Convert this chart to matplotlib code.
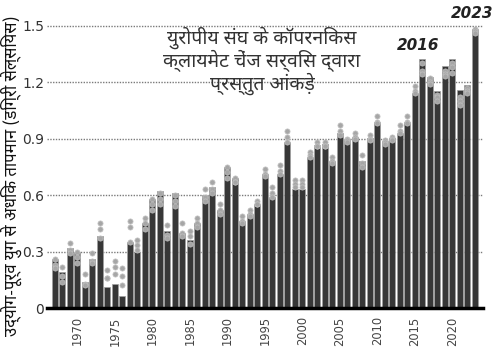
import matplotlib
matplotlib.use("Agg")
import matplotlib.pyplot as plt
from matplotlib import font_manager as fm
import numpy as np

years = list(range(1967, 2024))
anomaly = [0.26, 0.19, 0.32, 0.30, 0.14, 0.26, 0.38, 0.11, 0.13, 0.065,
           0.35, 0.30, 0.45, 0.58, 0.62, 0.41, 0.61, 0.40, 0.36, 0.45,
           0.60, 0.64, 0.52, 0.75, 0.69, 0.46, 0.50, 0.55, 0.71, 0.59,
           0.71, 0.88, 0.63, 0.63, 0.80, 0.865, 0.87, 0.78, 0.93, 0.90,
           0.91, 0.78, 0.905, 0.99, 0.885, 0.905, 0.93, 0.99, 1.14, 1.32,
           1.225, 1.15, 1.285, 1.32, 1.16, 1.185, 1.48]
dots_a = [0.26, 0.22, 0.345, 0.30, 0.18, 0.29, 0.45, 0.20, 0.25, 0.21,
          0.46, 0.36, 0.48, 0.58, 0.61, 0.44, 0.60, 0.45, 0.41, 0.48,
          0.63, 0.67, 0.55, 0.75, 0.69, 0.49, 0.52, 0.57, 0.74, 0.64,
          0.76, 0.94, 0.68, 0.68, 0.83, 0.88, 0.88, 0.80, 0.97, 0.90,
          0.93, 0.81, 0.92, 1.02, 0.89, 0.91, 0.97, 1.02, 1.18, 1.30,
          1.22, 1.13, 1.26, 1.30, 1.12, 1.17, 1.48]
dots_b = [0.23, 0.17, 0.31, 0.27, 0.13, 0.25, 0.42, 0.16, 0.22, 0.17,
          0.43, 0.335, 0.45, 0.55, 0.58, 0.39, 0.57, 0.40, 0.38, 0.45,
          0.59, 0.63, 0.52, 0.72, 0.67, 0.46, 0.50, 0.55, 0.71, 0.61,
          0.73, 0.91, 0.66, 0.66, 0.81, 0.86, 0.86, 0.78, 0.94, 0.89,
          0.91, 0.77, 0.90, 0.99, 0.88, 0.90, 0.94, 0.99, 1.15, 1.26,
          1.20, 1.12, 1.24, 1.28, 1.10, 1.15, 1.47]
dots_c = [0.21, 0.14, 0.29, 0.24, 0.12, 0.24, 0.37, 0.16, 0.18, 0.12,
          0.35, 0.31, 0.42, 0.52, 0.55, 0.37, 0.54, 0.38, 0.34, 0.43,
          0.57, 0.61, 0.50, 0.69, 0.67, 0.45, 0.49, 0.55, 0.70, 0.59,
          0.71, 0.88, 0.64, 0.64, 0.80, 0.86, 0.86, 0.77, 0.92, 0.88,
          0.90, 0.75, 0.89, 0.98, 0.87, 0.89, 0.93, 0.98, 1.14, 1.24,
          1.19, 1.10, 1.23, 1.25, 1.08, 1.14, 1.46]
xtick_years = [1970, 1975, 1980, 1985, 1990, 1995, 2000, 2005, 2010, 2015, 2020]
ytick_vals = [0, 0.3, 0.6, 0.9, 1.2, 1.5]
ytick_labels = ["0", "0.3", "0.6", "0.9", "1.2", "1.5"]

ylabel = "उद्योग-पूर्व युग से अधिक तापमान (डिग्री सेल्सियस)"
note = "युरोपीय संघ के कॉपरनिकस\nक्लायमेट चेंज सर्विस द्वारा\nप्रस्तुत आंकड़े"


def find_deva():
    try:
        from fontTools.ttLib import TTFont
    except Exception:
        return None
    found = []
    for f in fm.fontManager.ttflist:
        try:
            tt = TTFont(f.fname, fontNumber=0, lazy=True)
            cmap = tt.getBestCmap()
            if cmap and 0x0915 in cmap:
                found.append(f.name)
        except Exception:
            continue
    if not found:
        return None
    for pref in ["Noto Sans Devanagari", "Lohit Devanagari", "Mukta", "FreeSans"]:
        if pref in found:
            return pref
    return found[0]


deva = find_deva()
fam = [deva, "DejaVu Sans"] if deva else ["DejaVu Sans"]

W, H = 493, 356
fig = plt.figure(figsize=(W / 100, H / 100), dpi=100)
y0, ytop = 308, 6.7
ax = fig.add_axes([47 / W, (H - y0) / H, 436 / W, (y0 - ytop) / H])

ax.bar(years, anomaly, width=0.82, color="#373737", edgecolor="#a0a0a0",
       linewidth=0.5, zorder=2)
for d in (dots_a, dots_b, dots_c):
    ax.scatter(years, d, s=14, color="#a6a6a6", edgecolor="#c4c4c4",
               linewidth=0.5, zorder=3)

ax.set_xlim(1965.95, 2024.1)
ax.set_ylim(0, 1.6)
ax.set_yticks(ytick_vals)
ax.set_yticklabels(ytick_labels, fontsize=10, color="#333333")
ax.set_xticks(xtick_years)
ax.set_xticklabels([str(y) for y in xtick_years], rotation=90, fontsize=8.3,
                   color="#444444")
ax.tick_params(axis="both", length=0, pad=2)
ax.tick_params(axis="x", pad=6)
for v in ytick_vals[1:]:
    ax.axhline(v, color="#7a7a7a", linestyle=(0, (1, 1)), linewidth=1.0,
               zorder=1)
for s in ("left", "right", "top"):
    ax.spines[s].set_visible(False)
ax.spines["bottom"].set_linewidth(2.5)
ax.spines["bottom"].set_color("black")
ax.spines["bottom"].set_zorder(4)

fig.text(11 / W, 1 - 176 / H, ylabel, rotation=90, ha="center", va="center",
         fontsize=12, fontweight="bold", family=fam, color="#111111")
fig.text(262 / W, 1 - 61 / H, note, ha="center", va="center", fontsize=14,
         family=fam, color="#333333", linespacing=1.05)
fig.text(418 / W, 1 - 45 / H, "2016", ha="center", va="center", fontsize=11,
         fontweight="bold", style="italic", color="#222222")
fig.text(472 / W, 1 - 14 / H, "2023", ha="center", va="center", fontsize=11,
         fontweight="bold", style="italic", color="#222222")

fig.savefig("out.png", dpi=100)
